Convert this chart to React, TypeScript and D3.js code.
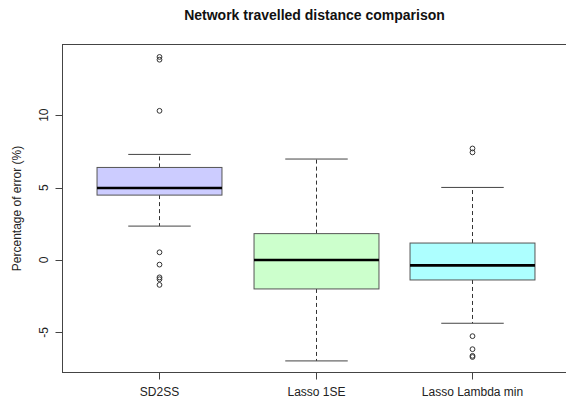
import React from "react";
import * as d3 from "d3";

const categories = ["SD2SS", "Lasso 1SE", "Lasso Lambda min"];
const lowerWhisker = [2.34, -6.97, -4.37];
const q1 = [4.48, -2.0, -1.38];
const medians = [4.97, 0.0, -0.37];
const q3 = [6.39, 1.82, 1.17];
const upperWhisker = [7.29, 6.97, 5.01];
const outliers = [
  [14.02, 13.83, 10.3, 0.53, -0.32, -1.2, -1.33, -1.72],
  [],
  [7.7, 7.43, -5.26, -6.16, -6.62, -6.7],
];
const fills = ["#CCCCFF", "#CCFFCC", "#ADFFFF"];
const yTicks = [-5, 0, 5, 10];
const title = "Network travelled distance comparison";
const yLabel = "Percentage of error (%)";

const W = 566;
const H = 403;
const left = 62.5;
const right = 568.5;
const top = 44.5;
const bottom = 372.5;

export default function App() {
  const x = d3.scaleLinear().domain([0.38, 3.62]).range([left, right]);
  const y = d3.scaleLinear().domain([-7.77, 14.88]).range([bottom, top]);
  const bw = (x(1.4) - x(1)) ;
  const cap = bw / 2;
  const font = "'Liberation Sans', Arial, sans-serif";
  const axisCol = "#444";
  return (
    <svg width={W} height={H} style={{ position: "absolute", left: 0, top: 0, background: "#fff" }}>
      <rect x={0} y={0} width={W} height={H} fill="#fff" />
      <text x={(left + right) / 2 - 1} y={20} textAnchor="middle" fontFamily={font} fontWeight="bold" fontSize={14} fill="#111">
        {title}
      </text>
      {categories.map((c, i) => {
        const cx = Math.round(x(i + 1)) + 0.5;
        return (
          <g key={c}>
            <line x1={cx} x2={cx} y1={y(q3[i])} y2={y(upperWhisker[i])} stroke="#333" strokeDasharray="4,3" />
            <line x1={cx} x2={cx} y1={y(q1[i])} y2={y(lowerWhisker[i])} stroke="#333" strokeDasharray="4,3" />
            <line x1={cx - cap} x2={cx + cap} y1={y(upperWhisker[i])} y2={y(upperWhisker[i])} stroke="#444" />
            <line x1={cx - cap} x2={cx + cap} y1={y(lowerWhisker[i])} y2={y(lowerWhisker[i])} stroke="#444" />
            <rect x={cx - bw} y={y(q3[i])} width={bw * 2} height={y(q1[i]) - y(q3[i])} fill={fills[i]} stroke="#555" />
            <line x1={cx - bw} x2={cx + bw} y1={y(medians[i])} y2={y(medians[i])} stroke="#000" strokeWidth={2.6} />
            {outliers[i].map((v, j) => (
              <circle key={j} cx={cx} cy={y(v)} r={2.4} fill="none" stroke="#333" strokeWidth={1} />
            ))}
          </g>
        );
      })}
      <rect x={left} y={top} width={right - left} height={bottom - top} fill="none" stroke={axisCol} />
      <line x1={left} x2={left} y1={y(yTicks[0])} y2={y(yTicks[yTicks.length - 1])} stroke={axisCol} />
      {yTicks.map((t) => (
        <g key={t}>
          <line x1={left - 7} x2={left} y1={Math.round(y(t)) + 0.5} y2={Math.round(y(t)) + 0.5} stroke={axisCol} />
          <text transform={`translate(48,${y(t)}) rotate(-90)`} textAnchor="middle" fontFamily={font} fontSize={12} fill="#222">
            {t}
          </text>
        </g>
      ))}
      {categories.map((c, i) => {
        const cx = Math.round(x(i + 1)) + 0.5;
        return (
          <g key={c}>
            <line x1={cx} x2={cx} y1={bottom} y2={bottom + 7} stroke={axisCol} />
            <text x={cx} y={396} textAnchor="middle" fontFamily={font} fontSize={12} fill="#222">
              {c}
            </text>
          </g>
        );
      })}
      <text transform={`translate(21,${(top + bottom) / 2}) rotate(-90)`} textAnchor="middle" fontFamily={font} fontSize={12} fill="#222">
        {yLabel}
      </text>
    </svg>
  );
}
